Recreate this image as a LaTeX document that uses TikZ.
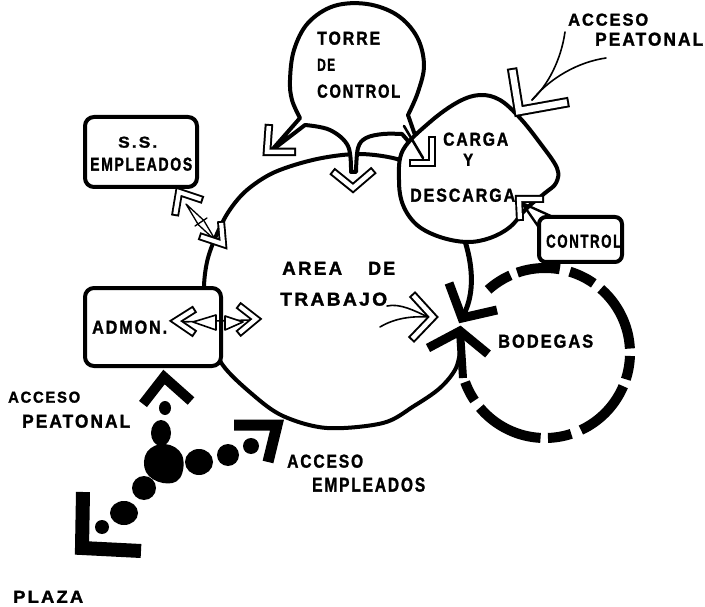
\documentclass[tikz,border=0pt]{standalone}
\usepackage{fontspec}
\usepackage{graphicx}
\newfontfamily\lettering{Liberation Sans Bold}[LetterSpace=12, FakeBold=1.6]
% lettered word squeezed into a given width and cap height (in pt)
\newcommand\fitword[3]{\resizebox{#1pt}{#2pt}{\lettering #3}}
\tikzset{
  outline/.style={draw=black, line width=4pt, line join=round, line cap=round},
  pointer/.style={draw=black, line width=1.6pt, line cap=round, line join=round},
  hollow/.style 2 args={draw=black, line width=#1, line join=miter, line cap=butt,
    postaction={draw=white, line width=#2, line join=miter, shorten <=2pt, shorten >=2pt}},
  blackbar/.style={draw=black, line width=#1, line join=miter, line cap=butt},
  ringdash/.style={draw=black, line width=10pt, line cap=butt},
  lab/.style={anchor=south west, inner sep=0pt}
}
\begin{document}
\begin{tikzpicture}[x=1pt,y=-1pt]
\fill[white] (0,0) rectangle (705,607);
\useasboundingbox (0,0) rectangle (705,607);

% ---- area de trabajo: the big round outline
\draw[outline] plot[smooth, tension=0.55] coordinates {(420,175) (400,160) (360,154) (317,159) (275,172) (247,190) (229,211) (216,236) (207,262) (204,292) (209,330) (222,364) (252,394) (283,416) (327,428) (383,423) (414,406) (440,388) (456,368) (461,345)};

% ---- bodegas: broken thick ring
\foreach \a/\b in {228/246, 251/280, 287/305, 311/357, 362/378, 383/425, 432/448, 453/500, 506/520}
  \draw[ringdash] plot[domain=\a:\b, samples=24] ({545+85*cos(\x)},{353+85*sin(\x)});

% ---- shaft from carga y descarga down to bodegas
\draw[line width=5pt, line cap=round] (464,238) .. controls (472,262) and (476,292) .. (463,316);

% ---- torre de control bubble with its three tails
\filldraw[outline, fill=white] plot[smooth, tension=0.6] coordinates {(300,118) (292,100) (290,80) (294,50) (308,23) (334,6) (367,4) (397,15) (417,37) (424,65) (418,92) (408,115)}
  -- (423,158)
  -- plot[smooth, tension=0.6] coordinates {(402,134) (383,134) (366,138) (358,148) (356,172)}
  -- plot[smooth, tension=0.6] coordinates {(351,172) (348,146) (330,130) (305,125)}
  -- (271,151) -- cycle;

% ---- carga y descarga blob
\filldraw[outline, fill=white] plot[smooth cycle, tension=0.6] coordinates {(403,150) (430,122) (458,102) (480,95) (500,100) (520,118) (540,143) (557,168) (556,183) (545,193) (527,208) (510,227) (490,238) (467,242) (440,237) (417,225) (403,205) (399,180)};
\draw[outline, line width=2.6pt] (404,126) -- (423,158);

% ---- boxes
\draw[outline, fill=white, rounded corners=9pt] (85,117) rectangle (197,187);
\draw[outline, fill=white, rounded corners=9pt] (85,288) rectangle (221,366);
\draw[outline, fill=white, rounded corners=7pt] (539,217) rectangle (622,262);
\draw[outline, line width=2.4pt] (540,229) -- (522,203) -- (553,217);

% ---- connectors between s.s. empleados / admon. and the work area
\coordinate (ssA) at (186,204);
\coordinate (ssB) at (216,241);
\draw[pointer, line width=1.3pt] (ssA) -- (198.3,224.7) -- (ssB) -- (203.7,220.3) -- cycle;
\draw[pointer, line width=1.3pt] (195,226) -- (207,218);
\coordinate (adL) at (178,322);
\coordinate (adR) at (252,320);
\draw[pointer] (adL) -- (adR);
\filldraw[pointer, fill=white] (193,322) -- (216,315) -- (216,330) -- cycle;
\filldraw[pointer, fill=white] (243,322) -- (225,316) -- (225,330) -- cycle;

% ---- thin leader lines
\coordinate (tipPeat) at (532,100);
\coordinate (tipArea) at (428,317);
\draw[pointer] (565,32) .. controls (561,60) and (548,85) .. (tipPeat);
\draw[pointer] (606,58) .. controls (578,62) and (550,78) .. (tipPeat);
\draw[pointer] (387,306) .. controls (400,303) and (415,311) .. (tipArea);
\draw[pointer] (380,327) .. controls (395,318) and (412,316) .. (tipArea);

% ---- open (outlined) arrows
\draw[hollow={8.5pt}{4.5pt}] (269,124) -- (267,152) -- (296,152);
\draw[hollow={8.5pt}{4.5pt}] (332,171) -- (353,188) -- (374,170);
\draw[hollow={7.5pt}{3.8pt}] (432,136) -- (432,163) -- (409,163);
\draw[hollow={10.5pt}{6.5pt}] (512,68) -- (519,111) -- (569,102);
\draw[hollow={8pt}{4.2pt}] (544,199) -- (519,199) -- (520,221);
\draw[hollow={8pt}{4.2pt}] (203,200) -- (179,192) -- (175,216);
\draw[hollow={8pt}{4.2pt}] (221,221) -- (223,244) -- (199,236);
\draw[hollow={8pt}{4.2pt}] (195,309) -- (176,321) -- (195,334);
\draw[hollow={8pt}{4.2pt}] (238,305) -- (256,319) -- (238,334);
\draw[hollow={8.5pt}{4.5pt}] (412,294) -- (433,317) -- (411,340);

% ---- solid arrows at bodegas
\draw[blackbar=9pt] (449,283) -- (462,318) -- (497,310);
\draw[blackbar=9pt] (428,348) -- (460,331) -- (488,354);
\draw[blackbar=8pt] (460,331) -- (463,378);

% ---- pedestrian / staff paths from the plaza
\draw[blackbar=10pt] (143,404) -- (164,377) -- (191,401);
\draw[blackbar=11pt] (234,425) -- (277,425) -- (268,462);
\draw[blackbar=14pt] (83,492) -- (82,548) -- (141,551);
\fill (165,408) ellipse (6 and 7);
\fill (161,433) ellipse (10 and 13);
\fill plot[smooth cycle, tension=0.7] coordinates {(147,452) (165,444) (182,455) (180,478) (163,483) (146,472)};
\fill (199,462) ellipse (14 and 13);
\fill (228,455) ellipse (11 and 11);
\fill (251,446) ellipse (8 and 8);
\fill (144,488) ellipse (12 and 12);
\fill (124,513) ellipse (14 and 12);
\fill (102,527) ellipse (7 and 7);

% ---- labels
\node[lab] (torre1) at (317,45) {\fitword{63}{13}{TORRE}};
\node[lab] (torre2) at (317,71) {\fitword{18}{12}{DE}};
\node[lab] (torre3) at (317,98) {\fitword{83}{13}{CONTROL}};
\node[lab] (accTR1) at (568,26) {\fitword{80}{12}{ACCESO}};
\node[lab] (accTR2) at (595,46) {\fitword{108}{13}{PEATONAL}};
\node[lab] (carga1) at (443,146) {\fitword{65}{13}{CARGA}};
\node[lab] (carga2) at (463,166) {\fitword{10}{12}{Y}};
\node[lab] (carga3) at (410,202) {\fitword{105}{13}{DESCARGA}};
\node[lab] (ctrl) at (546,248) {\fitword{75}{13}{CONTROL}};
\node[lab] (ss1) at (118,148) {\fitword{39}{11}{S.S.}};
\node[lab] (ss2) at (90,171) {\fitword{102}{13}{EMPLEADOS}};
\node[lab] (area1) at (282,275) {\fitword{60}{13}{AREA}};
\node[lab] (area2) at (368,275) {\fitword{27}{13}{DE}};
\node[lab] (area3) at (280,306) {\fitword{107}{13}{TRABAJO}};
\node[lab] (admon) at (92,334) {\fitword{75}{13}{ADMON.}};
\node[lab] (bodegas) at (498,348) {\fitword{95}{13}{BODEGAS}};
\node[lab] (accL1) at (8,403) {\fitword{72}{11}{ACCESO}};
\node[lab] (accL2) at (22,428) {\fitword{108}{13}{PEATONAL}};
\node[lab] (accE1) at (287,468) {\fitword{76}{13}{ACCESO}};
\node[lab] (accE2) at (312,492) {\fitword{113}{14}{EMPLEADOS}};
\node[lab] (plaza) at (13,603) {\fitword{70}{12}{PLAZA}};
\end{tikzpicture}
\end{document}
